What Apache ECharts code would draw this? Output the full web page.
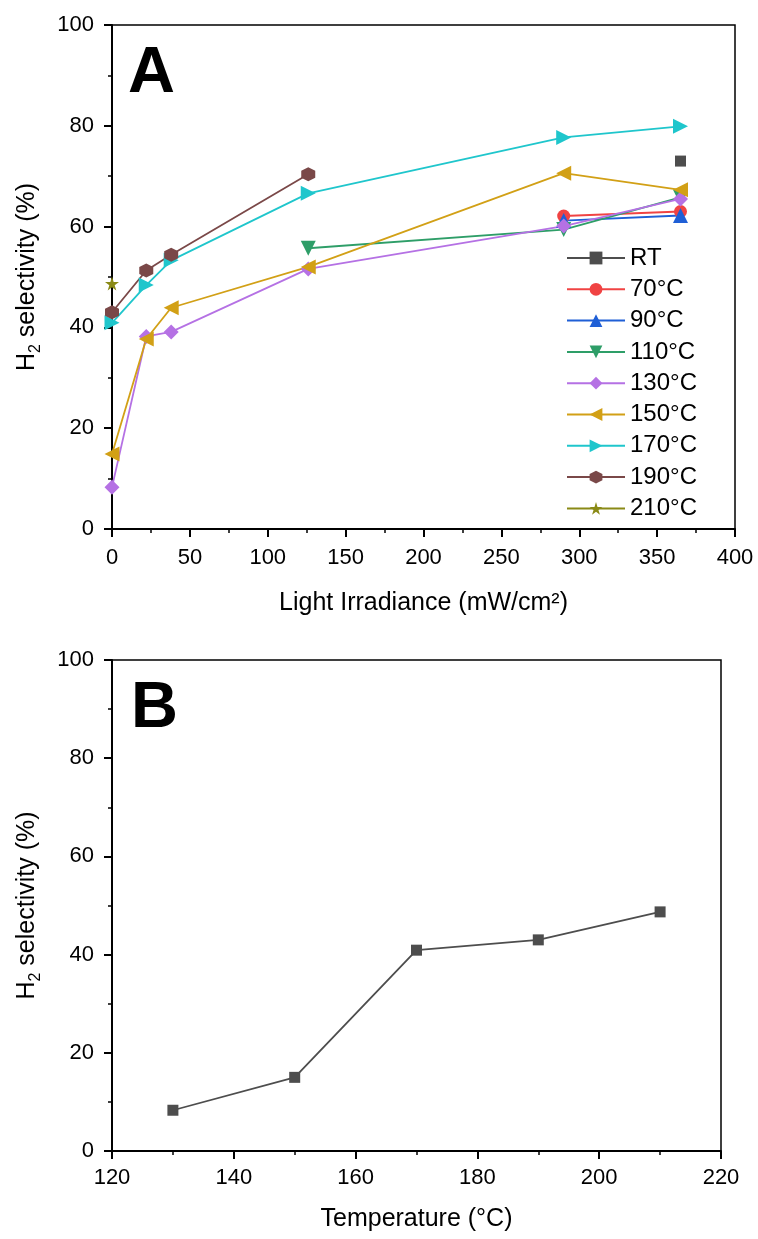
<!DOCTYPE html>
<html>
<head>
<meta charset="utf-8">
<script src="https://cdn.jsdelivr.net/npm/echarts@6/dist/echarts.min.js"></script>
<style>
html,body{margin:0;padding:0;background:#fff;}
#chart{width:758px;height:1239px;}
</style>
</head>
<body>
<div id="chart"></div>
<script>
// ---- Data (panel A) ----
const irradiance = [0, 22, 38, 126, 290, 365];
const seriesNames = ['RT', '70°C', '90°C', '110°C', '130°C', '150°C', '170°C', '190°C', '210°C'];
const selRT   = [null, null, null, null, null, 73.0];
const sel70   = [null, null, null, null, 62.1, 63.0];
const sel90   = [null, null, null, null, 61.2, 62.2];
const sel110  = [null, null, null, 55.7, 59.4, 65.8];
const sel130  = [8.3, 38.2, 39.1, 51.6, 60.1, 65.5];
const sel150  = [14.9, 37.7, 43.9, 52.0, 70.6, 67.3];
const sel170  = [40.9, 48.4, 53.3, 66.6, 77.7, 79.9];
const sel190  = [43.0, 51.3, 54.4, 70.4, null, null];
const sel210  = [48.7, null, null, null, null, null];
// ---- Data (panel B) ----
const temperatures = [130, 150, 170, 190, 210];
const selTemp = [8.3, 15.0, 40.9, 43.0, 48.7];

const allSel = [selRT, sel70, sel90, sel110, sel130, sel150, sel170, sel190, sel210];
const colors = ['#4d4d4d', '#f04343', '#1f5fd6', '#2e9e68', '#b571e4', '#d2a016', '#1fc6cc', '#7a4848', '#8a8a16'];
const hexagon = 'path://M0,-1L0.866,-0.5L0.866,0.5L0,1L-0.866,0.5L-0.866,-0.5Z';
const star = 'path://M0,-1L0.2245,-0.309L0.951,-0.309L0.363,0.118L0.588,0.809L0,0.382L-0.588,0.809L-0.363,0.118L-0.951,-0.309L-0.2245,-0.309Z';
const symbols = ['rect', 'circle', 'triangle', 'triangle', 'diamond', 'triangle', 'triangle', hexagon, star];
const rotations = [0, 0, 0, 180, 0, 90, -90, 0, 0];
const sizes = [11, 13, 15, 15, 15, 15, 15, 14, 14];

const FONT = 'Liberation Sans, Arial, Helvetica, sans-serif';

function pairs(xs, ys) {
  const out = [];
  for (let i = 0; i < xs.length; i++) if (ys[i] !== null) out.push([xs[i], ys[i]]);
  return out;
}

const yName = '{m|H}{s|2}{m| selectivity (%)}';
const yNameStyle = {
  fontFamily: FONT, color: '#000',
  rich: {
    m: { fontSize: 25, fontFamily: FONT, color: '#000' },
    s: { fontSize: 16, fontFamily: FONT, color: '#000', verticalAlign: 'bottom', padding: [0, 0, -4, 0] }
  }
};

function valueAxis(extra) {
  return Object.assign({
    type: 'value',
    axisLine: { show: true, lineStyle: { color: '#000', width: 2 } },
    axisTick: { show: true, inside: false, length: 8, lineStyle: { color: '#000', width: 2 } },
    minorTick: { show: true, splitNumber: 2, length: 4, lineStyle: { color: '#000', width: 1.5 } },
    splitLine: { show: false },
    minorSplitLine: { show: false },
    axisLabel: { color: '#000', fontSize: 22, fontFamily: FONT, margin: 18 },
    nameTextStyle: { color: '#000', fontSize: 25, fontFamily: FONT }
  }, extra);
}

const seriesA = allSel.map((arr, i) => ({
  name: seriesNames[i],
  type: 'line',
  xAxisIndex: 0, yAxisIndex: 0,
  data: pairs(irradiance, arr),
  symbol: symbols[i],
  symbolRotate: rotations[i],
  symbolSize: sizes[i],
  showAllSymbol: true,
  color: colors[i],
  lineStyle: { width: 1.8, color: colors[i] },
  itemStyle: { color: colors[i] },
  animation: false,
  z: 3
}));

const seriesB = {
  name: 'B',
  type: 'line',
  xAxisIndex: 1, yAxisIndex: 1,
  data: pairs(temperatures, selTemp),
  symbol: 'rect',
  symbolSize: 11,
  color: '#4d4d4d',
  lineStyle: { width: 1.8, color: '#4d4d4d' },
  itemStyle: { color: '#4d4d4d' },
  animation: false
};

const chart = echarts.init(document.getElementById('chart'), null, { renderer: 'canvas' });
chart.setOption({
  backgroundColor: '#fff',
  animation: false,
  title: [
    { text: 'A', left: 128, top: 42, padding: 0, textStyle: { fontSize: 65, fontWeight: 'bold', fontFamily: FONT, color: '#000' } },
    { text: 'B', left: 131, top: 677, padding: 0, textStyle: { fontSize: 65, fontWeight: 'bold', fontFamily: FONT, color: '#000' } }
  ],
  legend: {
    data: seriesNames,
    orient: 'vertical',
    left: 566, top: 246,
    padding: 0,
    itemWidth: 58, itemHeight: 16, itemGap: 7.3,
    textStyle: { fontSize: 24, lineHeight: 24, fontFamily: FONT, color: '#000' },
    selectedMode: false
  },
  grid: [
    { left: 112, top: 25, width: 623, height: 504, show: true, borderColor: '#000', borderWidth: 1.5, backgroundColor: 'transparent' },
    { left: 112, top: 660, width: 609, height: 491, show: true, borderColor: '#000', borderWidth: 1.5, backgroundColor: 'transparent' }
  ],
  xAxis: [
    valueAxis({ gridIndex: 0, min: 0, max: 400, interval: 50, name: 'Light Irradiance (mW/cm²)', nameLocation: 'middle', nameGap: 62 }),
    valueAxis({ gridIndex: 1, min: 120, max: 220, interval: 20, name: 'Temperature (°C)', nameLocation: 'middle', nameGap: 56,
      axisLabel: { color: '#000', fontSize: 22, fontFamily: FONT, margin: 16 } })
  ],
  yAxis: [
    valueAxis({ gridIndex: 0, min: 0, max: 100, interval: 20, name: yName, nameLocation: 'middle', nameGap: 72, nameTextStyle: yNameStyle }),
    valueAxis({ gridIndex: 1, min: 0, max: 100, interval: 20, name: yName, nameLocation: 'middle', nameGap: 72, nameTextStyle: yNameStyle })
  ],
  series: seriesA.concat([seriesB])
});
</script>
</body>
</html>
